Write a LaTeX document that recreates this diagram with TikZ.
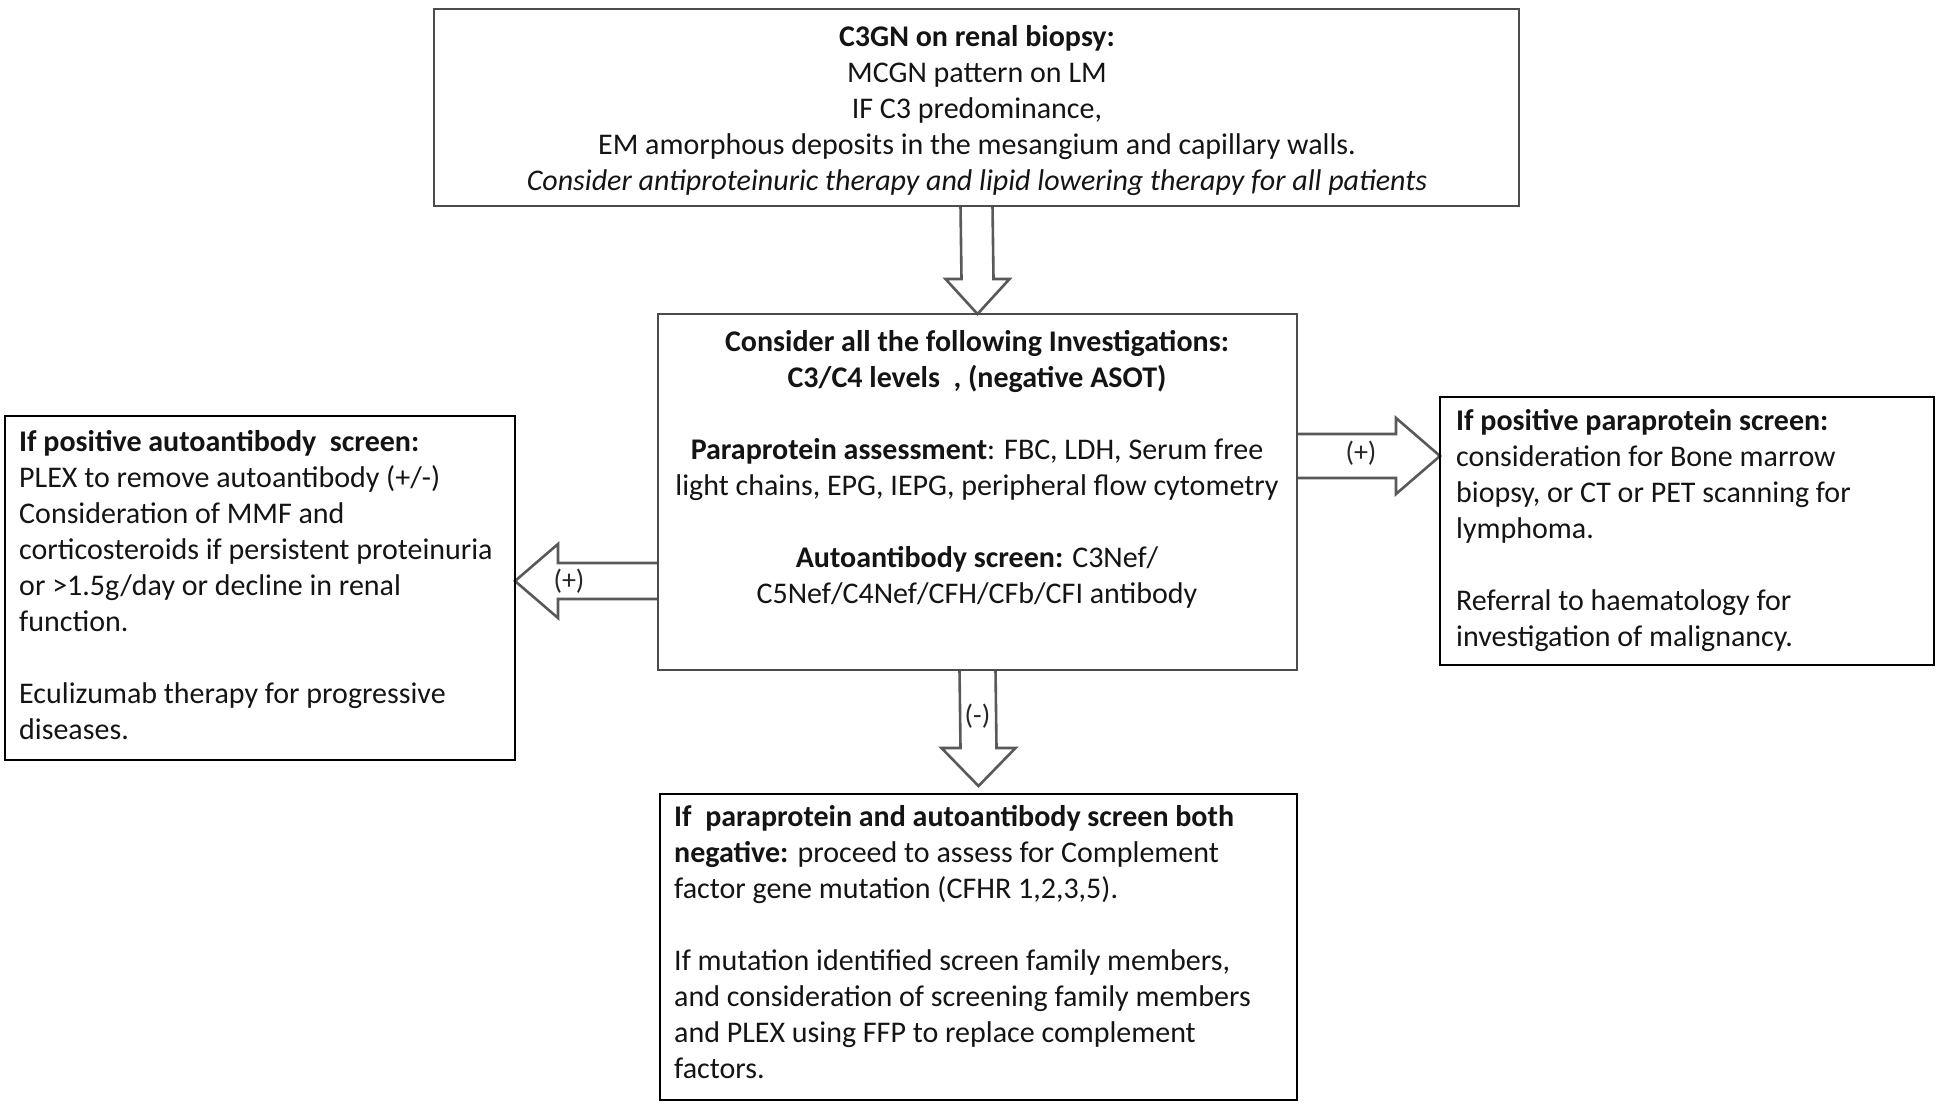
\documentclass[tikz,border=0pt]{standalone}
\usepackage{fontspec}
\setmainfont{Carlito}
\usetikzlibrary{calc,backgrounds}
\begin{document}
\begin{tikzpicture}[x=1pt,y=-1pt,
  box/.style={draw=#1, line width=2.6pt, inner sep=0pt, outer sep=0pt, anchor=north west},
  box/.default=black,
  txt/.style={font=\fontsize{30}{36}\selectfont, inner sep=0pt, text=black!92},
  lbl/.style={font=\fontsize{28}{32}\selectfont, inner sep=0pt, text=black!85},
  blockarr/.style={draw=#1, fill=white, line width=2.6pt, line join=miter},
  blockarr/.default=black!65]
\useasboundingbox (0,0) rectangle (1946,1108);

% boxes
\node[box=black!70, minimum width=1085pt, minimum height=197pt] (top) at (434,9) {};
\node[box=black!70, minimum width=639pt, minimum height=356pt] (mid) at (658,314) {};
\node[box, minimum width=510pt, minimum height=344pt] (left) at (5,416) {};
\node[box, minimum width=494pt, minimum height=268pt] (right) at (1440,397) {};
\node[box, minimum width=637pt, minimum height=306pt] (bot) at (660,794) {};

% texts
\node[txt, align=center, anchor=north] (toptxt) at (977,25) {%
  \textbf{C3GN on renal biopsy:}\\
  MCGN pattern on LM\\
  IF C3 predominance,\\
  EM amorphous deposits in the mesangium and capillary walls.\\
  \textit{Consider antiproteinuric therapy and lipid lowering therapy for all patients}};

\node[txt, align=center, anchor=north] (midtxt) at (977,330) {%
  \textbf{Consider all the following Investigations:}\\
  \textbf{C3/C4 levels\ \ , (negative ASOT)}\\[36pt]
  \textbf{Paraprotein assessment}: FBC, LDH, Serum free\\
  light chains, EPG, IEPG, peripheral flow cytometry\\[36pt]
  \textbf{Autoantibody screen:} C3Nef/\\
  C5Nef/C4Nef/CFH/CFb/CFI antibody};

\node[txt, align=left, anchor=north west] (lefttxt) at (19,430) {%
  \textbf{If positive autoantibody\ \ screen:}\\
  PLEX to remove autoantibody (+/-)\\
  Consideration of MMF and\\
  corticosteroids if persistent proteinuria\\
  or >1.5g/day or decline in renal\\
  function.\\[36pt]
  Eculizumab therapy for progressive\\
  diseases.};

\node[txt, align=left, anchor=north west] (righttxt) at (1456,409) {%
  \textbf{If positive paraprotein screen:}\\
  consideration for Bone marrow\\
  biopsy, or CT or PET scanning for\\
  lymphoma.\\[36pt]
  Referral to haematology for\\
  investigation of malignancy.};

\node[txt, align=left, anchor=north west] (bottxt) at (674,805) {%
  \textbf{If\ \ paraprotein and autoantibody screen both}\\
  \textbf{negative:} proceed to assess for Complement\\
  factor gene mutation (CFHR 1,2,3,5).\\[36pt]
  If mutation identified screen family members,\\
  and consideration of screening family members\\
  and PLEX using FFP to replace complement\\
  factors.};

% connector points
\coordinate (lc) at ($(mid.north west)+(0,267)$);
\coordinate (lt) at (left.east |- lc);
\coordinate (rc) at ($(mid.north east)+(0,142)$);
\coordinate (rt) at (right.west |- rc);
\coordinate (bt) at ($(bot.north)+(0,-8)$);

\begin{pgfonlayer}{background}
% top -> mid
\draw[blockarr] ($(top.south)+(-16,0)$) -- ($(mid.north)+(-16,-35)$) -- ($(mid.north)+(-32,-35)$)
  -- (mid.north) -- ($(mid.north)+(32,-35)$) -- ($(mid.north)+(16,-35)$) -- ($(top.south)+(16,0)$);
% mid -> left
\draw[blockarr] ($(lc)+(0,-18)$) -- ($(lt)+(43,-18)$) -- ($(lt)+(43,-37)$) -- (lt)
  -- ($(lt)+(43,37)$) -- ($(lt)+(43,18)$) -- ($(lc)+(0,18)$);
% mid -> right
\draw[blockarr] ($(rc)+(0,-22)$) -- ($(rt)+(-44,-22)$) -- ($(rt)+(-44,-38)$) -- (rt)
  -- ($(rt)+(-44,38)$) -- ($(rt)+(-44,22)$) -- ($(rc)+(0,22)$);
% mid -> bottom
\draw[blockarr] ($(mid.south)+(-18,0)$) -- ($(bt)+(-18,-38)$) -- ($(bt)+(-37,-38)$) -- (bt)
  -- ($(bt)+(37,-38)$) -- ($(bt)+(18,-38)$) -- ($(mid.south)+(18,0)$);
\end{pgfonlayer}

\node[lbl] (lp) at ($(lt)+(54,0)$) {(+)};
\node[lbl] (rp) at ($(rc)+(64,-3)$) {(+)};
\node[lbl] (bm) at ($(mid.south)+(0,46)$) {(-)};
\end{tikzpicture}
\end{document}
